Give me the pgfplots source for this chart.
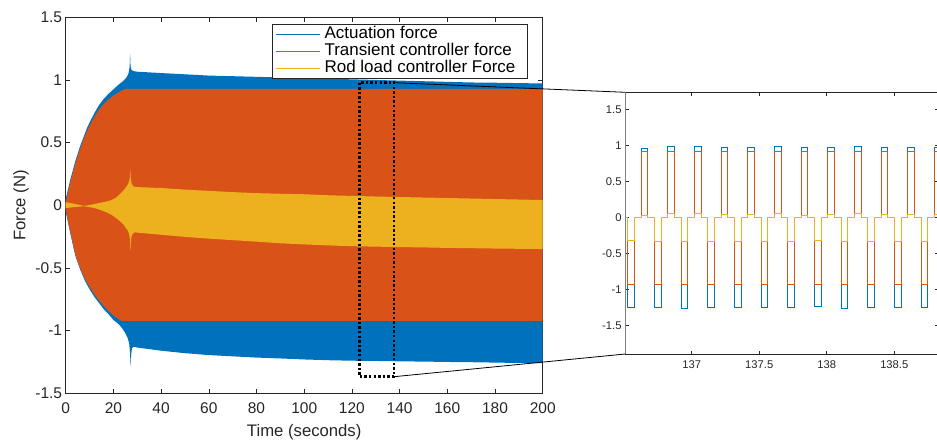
\documentclass[border=0pt]{standalone}
\usepackage{fontspec}
\setmainfont{Liberation Sans}
\usepackage{pgfplots}
\pgfplotsset{compat=1.18}
\definecolor{mblue}{rgb}{0,0.447,0.741}
\definecolor{morange}{rgb}{0.85,0.325,0.098}
\definecolor{myellow}{rgb}{0.929,0.694,0.125}
\definecolor{axcol}{HTML}{262626}
\begin{document}
\begin{tikzpicture}
\useasboundingbox (0,0) rectangle (937bp,441bp);
% ---------------- main axis ----------------
\begin{axis}[
  at={(65.7bp,47.7bp)}, anchor=south west,
  scale only axis, width=477bp, height=376bp,
  xmin=0, xmax=200, ymin=-1.5, ymax=1.5,
  xtick={0,20,40,60,80,100,120,140,160,180,200},
  ytick={-1.5,-1,-0.5,0,0.5,1,1.5},
  tick align=inside, major tick length=4.5bp,
  axis line style={axcol, line width=0.6bp},
  every tick/.style={axcol, line width=0.6bp},
  /pgf/number format/assume math mode=true,
  tick label style={font=\fontsize{15.5bp}{16bp}\selectfont, text=axcol},
  xticklabel style={inner sep=0pt, anchor=north, yshift=-9.4bp},
  yticklabel style={inner sep=0pt, anchor=east, xshift=-3.4bp},
  scaled ticks=false,
  xlabel={Time (seconds)}, ylabel={Force (N)},
  label style={font=\fontsize{16.7bp}{17bp}\selectfont, text=axcol},
  xlabel style={at={(axis description cs:0.5,0)}, anchor=north, inner sep=0pt, yshift=-31bp},
  ylabel style={at={(axis description cs:-0.0937,0.5)}, anchor=center, inner sep=0pt},
  legend image code/.code={\draw[#1] (0bp,0bp) -- (44bp,0bp); \path (47.5bp,0bp);},
  legend cell align=left,
  legend style={at={(axis description cs:0.9692,0.9822)}, anchor=north east,
    draw=axcol, line width=0.6bp, fill=white,
    font=\fontsize{17bp}{17bp}\selectfont,
    inner xsep=4bp, inner ysep=2bp, row sep=0pt,
    nodes={inner sep=0.25bp, text height=12.3bp, text depth=4bp, anchor=west}},
]
% Actuation force (blue envelope)
\addplot[fill=mblue, draw=none, forget plot] coordinates {
(0,0.05) (1,0.13) (2,0.21) (3,0.28) (4,0.35) (5,0.41) (6,0.47) (7,0.52) (8,0.57) (9,0.62) (10,0.66)
(12,0.735) (14,0.80) (16,0.85) (18,0.89) (20,0.925) (22,0.96) (24,0.99) (25.5,1.02) (26.3,1.05)
(26.8,1.10) (27.0,1.21) (27.2,1.11) (27.6,1.08) (28.5,1.07) (30,1.066) (40,1.055) (50,1.045)
(60,1.035) (70,1.03) (80,1.025) (90,1.02) (100,1.015) (110,1.01) (120,1.005) (130,1.0) (140,0.995)
(150,0.99) (160,0.985) (170,0.98) (180,0.978) (190,0.975) (200,0.972)
(200,-1.26) (190,-1.258) (180,-1.255) (170,-1.252) (160,-1.25) (150,-1.247) (140,-1.245) (130,-1.242)
(120,-1.24) (110,-1.236) (100,-1.23) (90,-1.222) (80,-1.215) (70,-1.205) (60,-1.195) (50,-1.18)
(40,-1.16) (30,-1.135) (28.5,-1.128) (27.8,-1.14) (27.4,-1.2) (27.2,-1.29) (27.0,-1.18) (26.6,-1.1)
(26,-1.06) (25,-1.02) (24,-0.99) (23,-0.965) (22,-0.945) (20,-0.915) (18,-0.87) (16,-0.83) (14,-0.78)
(12,-0.73) (10,-0.67) (8,-0.6) (6,-0.51) (4,-0.4) (2,-0.23) (1,-0.14) (0,-0.05)
} -- cycle;
% Transient controller force (orange envelope)
\addplot[fill=morange, draw=none, forget plot] coordinates {
(0,0.02) (1,0.11) (2,0.19) (3,0.26) (4,0.33) (5,0.39) (6,0.45) (7,0.50) (8,0.55) (9,0.595) (10,0.635)
(12,0.705) (14,0.765) (16,0.81) (18,0.845) (20,0.875) (22,0.9) (24,0.92) (25,0.928) (200,0.928)
(200,-0.922) (23.5,-0.922) (22,-0.905) (20,-0.88) (18,-0.845) (16,-0.805) (14,-0.76) (12,-0.71)
(10,-0.65) (8,-0.585) (6,-0.50) (4,-0.39) (2,-0.22) (1,-0.13) (0,-0.03)
} -- cycle;
% Rod load controller force (yellow envelope)
\addplot[fill=myellow, draw=none, forget plot] coordinates {
(0,0.025) (2,0.018) (4,0.01) (6,0.002) (7.5,-0.004) (9,-0.002) (11,0.006) (13,0.014) (15,0.022)
(17,0.03) (19,0.04) (21,0.06) (23,0.095) (24.4,0.122) (25.5,0.15) (26.3,0.175) (26.8,0.21)
(27.05,0.29) (27.3,0.21) (27.7,0.17) (28.4,0.15) (30,0.145) (40,0.138) (50,0.125) (60,0.115)
(70,0.105) (80,0.097) (90,0.092) (100,0.088) (110,0.08) (120,0.075) (130,0.07) (140,0.066)
(150,0.062) (160,0.058) (170,0.054) (180,0.05) (190,0.046) (200,0.042)
(200,-0.349) (190,-0.347) (180,-0.345) (170,-0.342) (160,-0.34) (150,-0.336) (140,-0.333)
(130,-0.33) (120,-0.326) (110,-0.32) (100,-0.312) (90,-0.303) (80,-0.29) (70,-0.278) (60,-0.266)
(50,-0.252) (40,-0.235) (30,-0.218) (29,-0.215) (28,-0.23) (27.5,-0.26) (27.2,-0.37) (27.0,-0.27)
(26.5,-0.225) (26,-0.2) (25,-0.175) (24.4,-0.157) (23,-0.13) (21,-0.1) (19.3,-0.077) (17,-0.055)
(15,-0.04) (13,-0.027) (11,-0.018) (9,-0.012) (7.5,-0.008) (6,-0.01) (4,-0.014) (2,-0.018) (0,-0.022)
} -- cycle;
\addlegendimage{mblue, line width=0.7bp}
\addlegendentry{Actuation force}
\addlegendimage{morange, line width=0.7bp}
\addlegendentry{Transient controller force\hspace*{11.5bp}}
\addlegendimage{myellow, line width=0.7bp}
\addlegendentry{Rod load controller Force}
\end{axis}
% ---------------- inset axis ----------------
\begin{axis}[
  at={(625.3bp,87bp)}, anchor=south west,
  scale only axis, width=312.7bp, height=261.7bp,
  xmin=136.508, xmax=138.824, ymin=-1.893, ymax=1.742,
  xtick={137,137.5,138,138.5},
  ytick={-1.5,-1,-0.5,0,0.5,1,1.5},
  tick align=inside, major tick length=3.3bp,
  axis line style={axcol, line width=0.6bp},
  every tick/.style={axcol, line width=0.6bp},
  /pgf/number format/assume math mode=true,
  scaled ticks=false,
  tick label style={font=\fontsize{11.2bp}{12bp}\selectfont, text=axcol},
  xticklabel style={inner sep=0pt, anchor=north, yshift=-6.5bp},
  yticklabel style={inner sep=0pt, anchor=east, xshift=-3.6bp},
]
\addplot[const plot, mblue, line width=0.8bp] coordinates {
(136.45,0)
(136.526,-1.24) (136.5754,0) (136.6248,0.964) (136.6742,0)
(136.7235,-1.245) (136.7729,0) (136.8223,0.986) (136.8717,0)
(136.921,-1.255) (136.9704,0) (137.0198,0.986) (137.0692,0)
(137.1185,-1.248) (137.1679,0) (137.2173,0.97) (137.2667,0)
(137.316,-1.24) (137.3654,0) (137.4148,0.97) (137.4642,0)
(137.5135,-1.248) (137.5629,0) (137.6123,0.986) (137.6617,0)
(137.711,-1.248) (137.7604,0) (137.8098,0.97) (137.8592,0)
(137.9085,-1.235) (137.9579,0) (138.0073,0.97) (138.0567,0)
(138.106,-1.255) (138.1554,0) (138.2048,0.99) (138.2542,0)
(138.3035,-1.248) (138.3529,0) (138.4023,0.97) (138.4517,0)
(138.501,-1.248) (138.5504,0) (138.5998,0.98) (138.6492,0)
(138.6985,-1.248) (138.7479,0) (138.7973,0.97) (138.8467,0)
(138.9,0)
};
\addplot[const plot, morange, line width=0.8bp] coordinates {
(136.45,0)
(136.526,-0.925) (136.5754,0) (136.6248,0.926) (136.6742,0)
(136.7235,-0.925) (136.7729,0) (136.8223,0.926) (136.8717,0)
(136.921,-0.925) (136.9704,0) (137.0198,0.926) (137.0692,0)
(137.1185,-0.925) (137.1679,0) (137.2173,0.926) (137.2667,0)
(137.316,-0.925) (137.3654,0) (137.4148,0.926) (137.4642,0)
(137.5135,-0.925) (137.5629,0) (137.6123,0.926) (137.6617,0)
(137.711,-0.925) (137.7604,0) (137.8098,0.926) (137.8592,0)
(137.9085,-0.925) (137.9579,0) (138.0073,0.926) (138.0567,0)
(138.106,-0.925) (138.1554,0) (138.2048,0.926) (138.2542,0)
(138.3035,-0.925) (138.3529,0) (138.4023,0.926) (138.4517,0)
(138.501,-0.925) (138.5504,0) (138.5998,0.926) (138.6492,0)
(138.6985,-0.925) (138.7479,0) (138.7973,0.926) (138.8467,0)
(138.9,0)
};
\addplot[const plot, myellow, line width=0.8bp] coordinates {
(136.45,0)
(136.526,-0.319) (136.5754,0) (136.6248,0.037) (136.6742,0)
(136.7235,-0.33) (136.7729,0) (136.8223,0.056) (136.8717,0)
(136.921,-0.333) (136.9704,0) (137.0198,0.056) (137.0692,0)
(137.1185,-0.33) (137.1679,0) (137.2173,0.05) (137.2667,0)
(137.316,-0.33) (137.3654,0) (137.4148,0.043) (137.4642,0)
(137.5135,-0.327) (137.5629,0) (137.6123,0.056) (137.6617,0)
(137.711,-0.33) (137.7604,0) (137.8098,0.037) (137.8592,0)
(137.9085,-0.315) (137.9579,0) (138.0073,0.047) (138.0567,0)
(138.106,-0.333) (138.1554,0) (138.2048,0.06) (138.2542,0)
(138.3035,-0.33) (138.3529,0) (138.4023,0.043) (138.4517,0)
(138.501,-0.327) (138.5504,0) (138.5998,0.05) (138.6492,0)
(138.6985,-0.333) (138.7479,0) (138.7973,0.043) (138.8467,0)
(138.9,0)
};
\end{axis}
% left spine of inset drawn lighter, as in the reference
\draw[gray, line width=1bp] (625.3bp,87bp) -- (625.3bp,348.7bp);
% zoom rectangle and connectors
\draw[black, line width=2.4bp, dash pattern=on 2.4bp off 2.2bp] (359.3bp,358.3bp) rectangle (394bp,64.3bp);
\draw[black, line width=0.8bp] (394bp,358.3bp) -- (625.3bp,348.7bp);
\draw[black, line width=0.8bp] (394bp,64.3bp) -- (625.3bp,87bp);
\end{tikzpicture}
\end{document}
